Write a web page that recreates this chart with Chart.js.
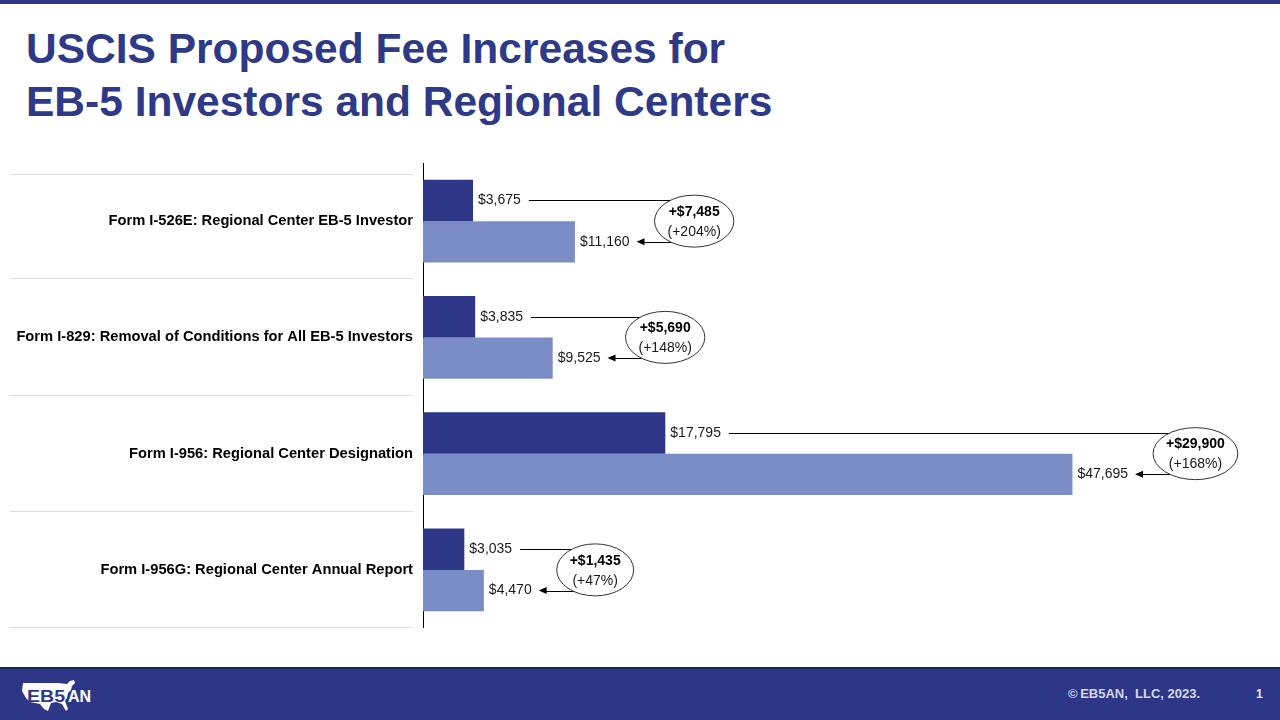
<!DOCTYPE html>
<html>
<head>
<meta charset="utf-8">
<title>USCIS Proposed Fee Increases</title>
<script src="https://cdn.jsdelivr.net/npm/chart.js@4.4.0/dist/chart.umd.min.js"></script>
<style>
  body { margin: 0; width: 1280px; height: 720px; overflow: hidden; background: #fff; position: relative;
         font-family: "Liberation Sans", Arial, sans-serif; }
  .topbar { position: absolute; left: 0; top: 0; width: 1280px; height: 4px; background: #2E3787; }
  h1 { position: absolute; left: 26px; top: 22px; margin: 0; font-size: 42.5px; line-height: 53px;
       color: #2E3A87; font-weight: bold; }
  .chart-wrap { position: absolute; left: 0; top: 163px; width: 1280px; height: 465px; }
  .footer { position: absolute; left: 0; top: 667px; width: 1280px; height: 53px; background: #2E3787;
            border-top: 2px solid #1C2250; box-sizing: border-box; }
  .logo { position: absolute; left: 20px; top: 10px; }
  .copy { position: absolute; left: 1068px; top: 17px; font-size: 13px; font-weight: bold; color: #D3D6EC; }
  .page { position: absolute; left: 1256px; top: 18px; font-size: 12px; font-weight: bold; color: #E8EAF5; }
</style>
</head>
<body>
<div class="topbar"></div>
<h1>USCIS Proposed Fee Increases for<br>EB-5 Investors and Regional Centers</h1>

<div class="chart-wrap">
  <canvas id="fee-chart"></canvas>
</div>

<div class="footer">
  <svg class="logo" width="80" height="36" viewBox="0 0 80 36">
    <path d="M3 4 L38 4 L47 5 L50 2 L54 1 L55 4 L52 7 L51 11 L48 14 L47 19 L45 22 L48 30 L46 32 L42 25 L36 23 L31 24 L28 32 L24 30 L20 25 L15 24 L10 23 L6 19 L2 12 Z" fill="#fff"/>
    <text x="7" y="23" font-family="Liberation Sans, Arial, sans-serif" font-weight="bold" font-size="16" fill="#2E3787" textLength="38" lengthAdjust="spacingAndGlyphs">EB5</text>
    <text x="48" y="23" font-family="Liberation Sans, Arial, sans-serif" font-weight="bold" font-size="16" fill="#fff">AN</text>
  </svg>
  <div class="copy">&copy;&thinsp;EB5AN,&nbsp; LLC, 2023.</div>
  <div class="page">1</div>
</div>

<script>
const categories = [
  'Form I-526E: Regional Center EB-5 Investor',
  'Form I-829: Removal of Conditions for All EB-5 Investors',
  'Form I-956: Regional Center Designation',
  'Form I-956G: Regional Center Annual Report'
];
const currentFees = [3675, 3835, 17795, 3035];
const proposedFees = [11160, 9525, 47695, 4470];
const increaseLabels = ['+$7,485', '+$5,690', '+$29,900', '+$1,435'];
const percentLabels = ['(+204%)', '(+148%)', '(+168%)', '(+47%)'];

const FONT_FAMILY = '"Liberation Sans", Arial, sans-serif';
const DARK_BLUE = '#2E3787';
const LIGHT_BLUE = '#7A8DC7';

const fmtMoney = v => '$' + v.toLocaleString('en-US');

// value labels, separators and the increase callouts
const feeAnnotations = {
  id: 'feeAnnotations',
  afterDatasetsDraw(chart) {
    const ctx = chart.ctx;
    const yScale = chart.scales.y;
    const cur = chart.getDatasetMeta(0).data;
    const prop = chart.getDatasetMeta(1).data;
    const band = yScale.height / categories.length;

    ctx.save();
    // row separators in the label area
    ctx.strokeStyle = '#DCDCDC';
    ctx.lineWidth = 1;
    for (let i = 0; i <= categories.length; i++) {
      const y = Math.round(yScale.top + band * i + (i === 0 ? 12 : 0)) - 0.5;
      ctx.beginPath();
      ctx.moveTo(10, y);
      ctx.lineTo(413, y);
      ctx.stroke();
    }

    categories.forEach((c, i) => {
      const a = cur[i], b = prop[i];
      const t1 = fmtMoney(currentFees[i]);
      const t2 = fmtMoney(proposedFees[i]);

      ctx.font = '14px ' + FONT_FAMILY;
      ctx.textAlign = 'left';
      ctx.textBaseline = 'middle';
      ctx.fillStyle = '#1a1a1a';
      ctx.fillText(t1, a.x + 5, a.y);
      ctx.fillText(t2, b.x + 5, b.y);
      const end1 = a.x + 5 + ctx.measureText(t1).width;
      const end2 = b.x + 5 + ctx.measureText(t2).width;
      const wPct = ctx.measureText(percentLabels[i]).width;
      ctx.font = 'bold 14px ' + FONT_FAMILY;
      const wInc = ctx.measureText(increaseLabels[i]).width;

      const rx = Math.max(wPct, wInc) / 2 + 13;
      const ry = 26;
      const cx = end2 + 25 + rx;
      const cy = (a.y + b.y) / 2;

      ctx.strokeStyle = '#000';
      ctx.lineWidth = 1;
      // leader line from the current fee
      ctx.beginPath();
      ctx.moveTo(end1 + 8, Math.round(a.y) + 0.5);
      ctx.lineTo(cx, Math.round(a.y) + 0.5);
      ctx.stroke();
      // arrow to the proposed fee
      const tip = end2 + 7;
      ctx.beginPath();
      ctx.moveTo(cx, Math.round(b.y) + 0.5);
      ctx.lineTo(tip + 6, Math.round(b.y) + 0.5);
      ctx.stroke();
      ctx.beginPath();
      ctx.moveTo(tip, b.y);
      ctx.lineTo(tip + 8, b.y - 3.5);
      ctx.lineTo(tip + 8, b.y + 3.5);
      ctx.closePath();
      ctx.fillStyle = '#000';
      ctx.fill();

      // callout ellipse
      ctx.beginPath();
      ctx.ellipse(cx, cy, rx, ry, 0, 0, Math.PI * 2);
      ctx.fillStyle = '#fff';
      ctx.fill();
      ctx.strokeStyle = '#333';
      ctx.stroke();

      ctx.textAlign = 'center';
      ctx.fillStyle = '#000';
      ctx.font = 'bold 14px ' + FONT_FAMILY;
      ctx.fillText(increaseLabels[i], cx, cy - 9);
      ctx.font = '14px ' + FONT_FAMILY;
      ctx.fillStyle = '#1a1a1a';
      ctx.fillText(percentLabels[i], cx, cy + 11);
    });
    ctx.restore();
  }
};

new Chart(document.getElementById('fee-chart'), {
  type: 'bar',
  data: {
    labels: categories,
    datasets: [
      {
        label: 'Current Fee',
        data: currentFees,
        backgroundColor: DARK_BLUE,
        categoryPercentage: 0.71,
        barPercentage: 1
      },
      {
        label: 'Proposed Fee',
        data: proposedFees,
        backgroundColor: LIGHT_BLUE,
        categoryPercentage: 0.71,
        barPercentage: 1
      }
    ]
  },
  options: {
    indexAxis: 'y',
    responsive: true,
    maintainAspectRatio: false,
    animation: false,
    layout: { padding: { left: 0, right: 40, top: 0, bottom: 0 } },
    plugins: {
      legend: { display: false },
      tooltip: { enabled: false }
    },
    scales: {
      x: { display: false, min: 0, max: 60000 },
      y: {
        grid: { display: false, drawTicks: false },
        border: { display: true, color: '#000', width: 1 },
        ticks: {
          color: '#000',
          padding: 10,
          font: { family: FONT_FAMILY, size: 14.7, weight: 'bold' }
        },
        afterFit(scale) {
          scale.width = 423;
          scale.paddingTop = 0;
          scale.paddingBottom = 0;
        }
      }
    }
  },
  plugins: [feeAnnotations]
});
</script>
</body>
</html>
